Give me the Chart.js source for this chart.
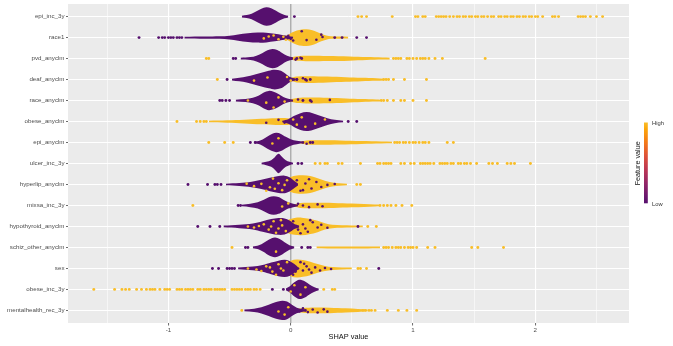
<!DOCTYPE html>
<html><head><meta charset="utf-8">
<script src="https://cdn.jsdelivr.net/npm/chart.js@4.4.1/dist/chart.umd.min.js"></script>
<style>html,body{margin:0;padding:0;background:#fff;}#wrap{width:673px;height:346px;}</style>
</head><body><div id="wrap"><canvas id="c" width="673" height="346"></canvas></div>
<script>
const features = ["epi_inc_3y","race1","pvd_anyclm","deaf_anyclm","race_anyclm","obese_anyclm","epi_anyclm","ulcer_inc_3y","hyperlip_anyclm","mixsa_inc_3y","hypothyroid_anyclm","schiz_other_anyclm","sex","obese_inc_3y","mentalhealth_rec_3y"];
const xTicks = [-1.5,-1,-0.5,0,0.5,1,1.5,2,2.5];
const xTitle = "SHAP value";
const legendTitle = "Feature value";
const legendLabels = ["High","Low"];

// dense swarm bodies: [SHAP value, half-height in row units]
const lowBody = [
 [[-0.40,0.04],[-0.36,0.07],[-0.32,0.13],[-0.28,0.25],[-0.24,0.37],[-0.20,0.44],[-0.16,0.40],[-0.12,0.28],[-0.08,0.15],[-0.05,0.08],[-0.02,0.04]],
 [[-0.87,0.04],[-0.70,0.05],[-0.58,0.06],[-0.50,0.09],[-0.43,0.15],[-0.35,0.21],[-0.27,0.24],[-0.20,0.23],[-0.13,0.18],[-0.07,0.12],[-0.02,0.08],[0.02,0.04]],
 [[-0.41,0.04],[-0.33,0.07],[-0.28,0.14],[-0.23,0.27],[-0.19,0.40],[-0.15,0.46],[-0.11,0.41],[-0.07,0.27],[-0.03,0.13],[0.02,0.05]],
 [[-0.48,0.04],[-0.42,0.08],[-0.36,0.14],[-0.30,0.23],[-0.24,0.33],[-0.18,0.42],[-0.13,0.47],[-0.08,0.42],[-0.04,0.27],[0.00,0.11],[0.04,0.05]],
 [[-0.45,0.04],[-0.37,0.07],[-0.31,0.13],[-0.26,0.24],[-0.22,0.38],[-0.18,0.46],[-0.14,0.42],[-0.10,0.31],[-0.06,0.17],[-0.02,0.08],[0.02,0.04]],
 [[-0.07,0.04],[-0.02,0.11],[0.03,0.27],[0.08,0.40],[0.13,0.45],[0.18,0.40],[0.24,0.28],[0.30,0.16],[0.36,0.08],[0.43,0.04]],
 [[-0.30,0.04],[-0.25,0.10],[-0.21,0.22],[-0.17,0.36],[-0.12,0.46],[-0.08,0.41],[-0.04,0.27],[0.00,0.15],[0.05,0.08],[0.11,0.04]],
 [[-0.24,0.04],[-0.20,0.08],[-0.16,0.16],[-0.13,0.30],[-0.10,0.46],[-0.07,0.31],[-0.04,0.16],[-0.01,0.08],[0.02,0.04]],
 [[-0.53,0.04],[-0.42,0.07],[-0.32,0.13],[-0.24,0.22],[-0.17,0.32],[-0.11,0.39],[-0.05,0.42],[-0.01,0.34],[0.03,0.17],[0.06,0.05]],
 [[-0.40,0.04],[-0.33,0.08],[-0.27,0.15],[-0.22,0.27],[-0.18,0.39],[-0.14,0.44],[-0.10,0.40],[-0.06,0.27],[-0.02,0.15],[0.02,0.08],[0.06,0.04]],
 [[-0.55,0.04],[-0.42,0.08],[-0.31,0.14],[-0.23,0.25],[-0.16,0.35],[-0.10,0.40],[-0.05,0.38],[-0.01,0.28],[0.03,0.12],[0.07,0.05]],
 [[-0.31,0.04],[-0.26,0.10],[-0.22,0.22],[-0.18,0.37],[-0.13,0.47],[-0.09,0.40],[-0.05,0.25],[-0.01,0.11],[0.03,0.04]],
 [[-0.43,0.04],[-0.31,0.09],[-0.23,0.16],[-0.16,0.28],[-0.10,0.37],[-0.05,0.41],[-0.01,0.36],[0.03,0.21],[0.06,0.05]],
 [[-0.04,0.04],[-0.01,0.14],[0.03,0.34],[0.07,0.46],[0.11,0.40],[0.15,0.25],[0.19,0.12],[0.23,0.04]],
 [[-0.38,0.04],[-0.30,0.08],[-0.24,0.15],[-0.18,0.27],[-0.12,0.40],[-0.07,0.46],[-0.03,0.42],[0.01,0.27],[0.05,0.13],[0.09,0.07],[0.13,0.04]]
];
const highBody = [
 [],
 [[-0.08,0.04],[-0.03,0.11],[0.01,0.24],[0.05,0.34],[0.09,0.39],[0.13,0.40],[0.17,0.36],[0.21,0.28],[0.25,0.18],[0.29,0.10],[0.33,0.06],[0.40,0.05],[0.47,0.04]],
 [[0.00,0.05],[0.05,0.11],[0.15,0.13],[0.30,0.12],[0.48,0.10],[0.62,0.07],[0.75,0.05],[0.81,0.04]],
 [[-0.01,0.05],[0.05,0.14],[0.15,0.16],[0.30,0.14],[0.45,0.11],[0.58,0.08],[0.70,0.06],[0.76,0.04]],
 [[-0.01,0.05],[0.05,0.12],[0.15,0.14],[0.30,0.13],[0.45,0.10],[0.58,0.07],[0.70,0.05],[0.73,0.04]],
 [[-0.67,0.04],[-0.52,0.06],[-0.38,0.09],[-0.24,0.13],[-0.12,0.16],[-0.03,0.16],[0.04,0.10],[0.10,0.05]],
 [[0.08,0.05],[0.13,0.10],[0.25,0.11],[0.40,0.10],[0.58,0.07],[0.74,0.05],[0.83,0.04]],
 [],
 [[-0.10,0.05],[-0.05,0.17],[0.00,0.36],[0.05,0.43],[0.10,0.44],[0.16,0.40],[0.22,0.30],[0.28,0.18],[0.34,0.10],[0.40,0.06],[0.46,0.04]],
 [[0.03,0.05],[0.08,0.12],[0.20,0.13],[0.35,0.12],[0.50,0.09],[0.60,0.07],[0.69,0.05],[0.73,0.04]],
 [[-0.12,0.05],[-0.06,0.16],[-0.02,0.32],[0.03,0.40],[0.09,0.42],[0.15,0.37],[0.22,0.27],[0.28,0.15],[0.34,0.08],[0.42,0.06],[0.50,0.05],[0.59,0.04]],
 [[0.21,0.04],[0.30,0.05],[0.45,0.05],[0.60,0.05],[0.73,0.04]],
 [[-0.10,0.05],[-0.04,0.22],[0.00,0.37],[0.05,0.43],[0.10,0.40],[0.16,0.32],[0.22,0.21],[0.28,0.12],[0.34,0.07],[0.42,0.05],[0.50,0.04]],
 [],
 [[0.04,0.05],[0.10,0.11],[0.20,0.14],[0.32,0.13],[0.45,0.10],[0.55,0.07],[0.63,0.04]]
];
// isolated points along each row (SHAP values)
const lowDots = [
 [0.03],
 [-1.24,-1.08,-1.05,-1.03,-1.00,-0.98,-0.96,-0.93,-0.91,-0.89,0.36,0.42,0.54,0.62],
 [-0.47,-0.45,0.05,0.09],
 [-0.52,0.05,0.12,0.16],
 [-0.58,-0.56,-0.53,-0.50,0.10,0.16],
 [0.47,0.54],
 [-0.33,-0.29,0.16,0.18],
 [0.06,0.09],
 [-0.84,-0.68,-0.62,-0.60,-0.57],
 [-0.43,-0.41],
 [-0.76,-0.66,-0.58,0.55],
 [-0.37,-0.35,0.09,0.14,0.16],
 [-0.64,-0.59,-0.52,-0.50,-0.48,-0.46,0.72],
 [-0.15,-0.06],
 []
];
const highDots = [
 [0.55,0.58,0.62,0.83,1.02,1.04,1.08,1.10,1.19,1.21,1.23,1.25,1.27,1.30,1.33,1.36,1.38,1.41,1.43,1.46,1.48,1.51,1.53,1.56,1.58,1.61,1.64,1.66,1.70,1.72,1.75,1.77,1.80,1.82,1.85,1.87,1.90,1.92,1.95,1.97,2.00,2.02,2.06,2.14,2.16,2.19,2.35,2.37,2.39,2.41,2.45,2.50,2.55],
 [],
 [-0.69,-0.67,0.84,0.86,0.88,0.90,0.95,0.97,1.00,1.03,1.06,1.08,1.10,1.13,1.18,1.24,1.59],
 [-0.60,0.76,0.78,0.80,0.84,0.93,1.11],
 [0.74,0.76,0.79,0.84,0.90,0.93,1.00,1.11],
 [-0.93,-0.77,-0.74,-0.71,-0.69],
 [-0.67,-0.54,-0.47,0.85,0.87,0.89,0.92,0.94,0.97,1.00,1.02,1.05,1.08,1.10,1.13,1.28,1.33],
 [0.20,0.24,0.28,0.30,0.39,0.42,0.57,0.71,0.73,0.76,0.78,0.80,0.82,0.90,0.93,0.98,1.01,1.06,1.08,1.10,1.12,1.14,1.17,1.22,1.24,1.26,1.28,1.31,1.33,1.37,1.39,1.42,1.44,1.47,1.52,1.62,1.65,1.69,1.77,1.80,1.83,1.96],
 [0.54,0.57],
 [-0.80,0.73,0.76,0.79,0.82,0.86,0.91,0.99],
 [0.63,0.70],
 [-0.48,0.76,0.78,0.80,0.83,0.86,0.88,0.90,0.93,0.96,0.98,1.00,1.03,1.12,1.18,1.48,1.53,1.74],
 [0.55,0.57,0.62],
 [-1.61,-1.44,-1.38,-1.35,-1.32,-1.26,-1.22,-1.18,-1.15,-1.13,-1.11,-1.07,-1.03,-1.01,-0.99,-0.93,-0.91,-0.89,-0.86,-0.84,-0.82,-0.80,-0.76,-0.74,-0.71,-0.69,-0.67,-0.65,-0.62,-0.60,-0.58,-0.56,-0.54,-0.48,-0.46,-0.44,-0.42,-0.40,-0.37,-0.35,-0.33,-0.30,-0.28,-0.25,0.27,0.34,0.36],
 [-0.40,0.59,0.61,0.64,0.66,0.69,0.79,0.88,0.95,1.03]
];
// scattered points inside the swarm: [SHAP value, vertical offset in row units]
const lowSpeck = [
 [],
 [[0.00,0.06],[0.02,0.14],[0.09,-0.30],[0.13,0.12],[0.25,-0.14],[0.26,-0.03],[0.21,0.10],[-0.02,-0.08]],
 [[0.04,0.05],[0.08,-0.04]],
 [[0.05,0.00],[0.10,-0.06],[0.13,0.04]],
 [[0.32,-0.03],[0.17,0.05],[0.06,-0.05]],
 [[-0.05,0.05],[-0.10,-0.08],[-0.20,0.06]],
 [[0.10,0.00],[0.13,0.06]],
 [],
 [[0.21,-0.12],[0.17,0.19],[0.10,0.27],[0.36,-0.02],[0.05,-0.20],[0.12,-0.05],[0.25,0.12],[0.02,0.10],[0.08,0.30],[0.30,0.02],[0.15,-0.25]],
 [[0.10,0.00],[0.15,0.08],[0.22,-0.05],[0.26,0.04],[0.06,-0.08]],
 [[0.02,-0.25],[0.06,0.15],[0.10,-0.10],[0.14,0.25],[0.18,-0.20],[0.22,0.05],[0.25,-0.08],[0.08,0.32],[0.30,0.06],[0.04,0.00],[0.16,-0.30],[0.12,0.10]],
 [],
 [[0.00,-0.20],[0.04,0.15],[0.08,-0.30],[0.10,0.10],[0.13,-0.10],[0.17,0.20],[0.20,-0.05],[0.24,0.10],[0.06,0.00],[0.15,0.05],[0.28,-0.02],[0.02,0.30],[0.11,-0.22],[0.33,0.03]],
 [],
 [[0.07,0.05],[0.10,-0.10],[0.14,0.08],[0.18,-0.04],[0.22,0.10],[0.12,0.00],[0.27,-0.05],[0.30,0.06]]
];
const highSpeck = [
 [],
 [[-0.22,0.04],[-0.14,-0.10],[-0.10,0.08],[-0.06,-0.04],[-0.04,0.10],[-0.18,-0.05]],
 [],
 [[-0.19,-0.10],[0.00,0.05],[-0.03,-0.12],[-0.30,0.05]],
 [[-0.20,0.10],[-0.14,0.33],[-0.10,-0.15],[-0.05,0.05],[-0.35,0.00]],
 [[0.02,-0.10],[0.05,0.15],[0.09,-0.20],[0.12,0.25],[0.20,0.10],[0.28,-0.10]],
 [[-0.15,0.05],[-0.10,-0.20]],
 [],
 [[-0.145,-0.28],[-0.17,0.13],[-0.24,-0.03],[-0.07,0.27],[-0.03,-0.20],[-0.10,-0.06],[-0.20,0.30],[-0.30,0.08],[-0.13,0.20],[-0.05,0.02],[-0.36,-0.04]],
 [[-0.07,0.05],[-0.02,-0.10]],
 [[-0.30,0.05],[-0.22,-0.10],[-0.18,0.15],[-0.14,-0.25],[-0.10,0.10],[-0.07,-0.05],[-0.12,0.30],[-0.04,0.22],[-0.26,-0.02],[-0.35,0.00],[-0.08,-0.30],[-0.16,0.00]],
 [[-0.12,0.20]],
 [[-0.35,0.00],[-0.28,0.05],[-0.20,-0.10],[-0.15,0.15],[-0.10,-0.20],[-0.06,0.10],[-0.12,0.30],[-0.03,-0.30],[-0.24,0.12],[-0.17,-0.05],[-0.08,0.00]],
 [[0.00,0.10],[0.03,-0.20],[0.08,0.25],[0.12,-0.10]],
 [[-0.05,0.20],[-0.02,-0.15],[-0.10,0.05]]
];

const LOW = '#56106E', HIGH = '#F9BE28';
const FONT = "'Liberation Sans', Arial, sans-serif";
const datasets = [];
datasets.push({type:'line', data:[{x:0,y:0.4},{x:0,y:15.6}], borderColor:'#A9A9A9', borderWidth:0.8, pointRadius:0, fill:false, order:1000});
function addBody(profile, row, color, order){
  if (!profile.length) return;
  datasets.push({type:'line', data: profile.map(p=>({x:p[0], y:row-p[1]})), borderColor:'rgba(0,0,0,0)', borderWidth:0, pointRadius:0, fill:false, tension:0.35, order});
  datasets.push({type:'line', data: profile.map(p=>({x:p[0], y:row+p[1]})), borderColor:'rgba(0,0,0,0)', borderWidth:0, pointRadius:0, fill:'-1', backgroundColor:color, tension:0.35, order});
}
features.forEach((f,i)=>{ addBody(highBody[i], i+1, HIGH, 500); });
features.forEach((f,i)=>{ addBody(lowBody[i], i+1, LOW, 400); });
function addDots(arr, color, order, r){
  const pts = [];
  arr.forEach((row,i)=>row.forEach(v=>{ if (Array.isArray(v)) pts.push({x:v[0], y:i+1+v[1]}); else pts.push({x:v, y:i+1}); }));
  datasets.push({type:'scatter', data:pts, pointRadius:r, pointBackgroundColor:color, pointBorderWidth:0, showLine:false, order});
}
addDots(highDots, HIGH, 300, 1.45);
addDots(lowDots, LOW, 290, 1.45);
addDots(highSpeck, HIGH, 200, 1.3);
addDots(lowSpeck, LOW, 190, 1.3);

const bgPlugin = {id:'bg', beforeDraw(chart){
  const {ctx, chartArea:a} = chart; ctx.save();
  ctx.fillStyle = '#fff'; ctx.fillRect(0,0,chart.width,chart.height);
  ctx.fillStyle = '#EBEBEB'; ctx.fillRect(a.left,a.top,a.right-a.left,a.bottom-a.top);
  ctx.restore();
}};
const legendPlugin = {id:'shapLegend', afterDraw(chart){
  const ctx = chart.ctx; ctx.save();
  const x0 = 644, w = 3.8, top = 122.5, bot = 203.3;
  const g = ctx.createLinearGradient(0, bot, 0, top);
  const stops = [['#56106E',0],['#6A176E',0.083],['#932667',0.25],['#BC3754',0.417],['#DD513A',0.583],['#F37819',0.75],['#FCA50A',0.917],['#F9BE28',1]];
  stops.forEach(s=>g.addColorStop(s[1], s[0]));
  ctx.fillStyle = g; ctx.fillRect(x0, top, w, bot-top);
  ctx.fillStyle = '#333'; ctx.font = '5.8px ' + FONT; ctx.textBaseline = 'middle'; ctx.textAlign = 'left';
  ctx.fillText(legendLabels[0], 652, top + 0.5);
  ctx.fillText(legendLabels[1], 652, bot + 1);
  ctx.translate(638.3, 163.3); ctx.rotate(-Math.PI/2);
  ctx.textAlign = 'center'; ctx.fillStyle = '#111'; ctx.font = '7.2px ' + FONT;
  ctx.fillText(legendTitle, 0, 0);
  ctx.restore();
}};

new Chart(document.getElementById('c'), {
  type: 'scatter',
  data: { datasets },
  options: {
    responsive: false, devicePixelRatio: 1, animation: false,
    layout: { padding: { left: 0, right: 44, top: 3, bottom: 0 } },
    plugins: { legend: { display: false }, tooltip: { enabled: false } },
    scales: {
      x: {
        type: 'linear', min: -1.821, max: 2.766,
        afterBuildTicks: s => { s.ticks = xTicks.map(v=>({value:v})); },
        afterFit: s => { s.height = 23; s.paddingLeft = 0; s.paddingRight = 0; },
        ticks: { autoSkip: false, maxRotation: 0, padding: 1, color: '#4D4D4D', font: { family: FONT, size: 6.2 },
          callback: v => Number.isInteger(v) ? String(v) : '' },
        grid: { color: '#FFFFFF', lineWidth: c => (c.tick && Number.isInteger(c.tick.value)) ? 1.1 : 0.55,
          tickLength: 2.5, tickWidth: 0.8, tickColor: c => (c.tick && Number.isInteger(c.tick.value)) ? '#444' : 'rgba(0,0,0,0)' },
        border: { display: false },
        title: { display: true, text: xTitle, color: '#111', font: { family: FONT, size: 7.4 }, padding: { top: 0, bottom: 4.5 } }
      },
      y: {
        type: 'linear', min: 0.4, max: 15.6, reverse: true,
        afterBuildTicks: s => { s.ticks = features.map((f,i)=>({value:i+1})); },
        afterFit: s => { s.width = 68; s.paddingTop = 0; s.paddingBottom = 0; },
        ticks: { autoSkip: false, padding: 1.5, color: '#4D4D4D', font: { family: FONT, size: 6.2 },
          callback: v => features[Math.round(v)-1] || '' },
        grid: { color: '#FFFFFF', lineWidth: 1, tickLength: 2, tickWidth: 0.8, tickColor: '#444' },
        border: { display: false }
      }
    }
  },
  plugins: [bgPlugin, legendPlugin]
});
</script></body></html>
